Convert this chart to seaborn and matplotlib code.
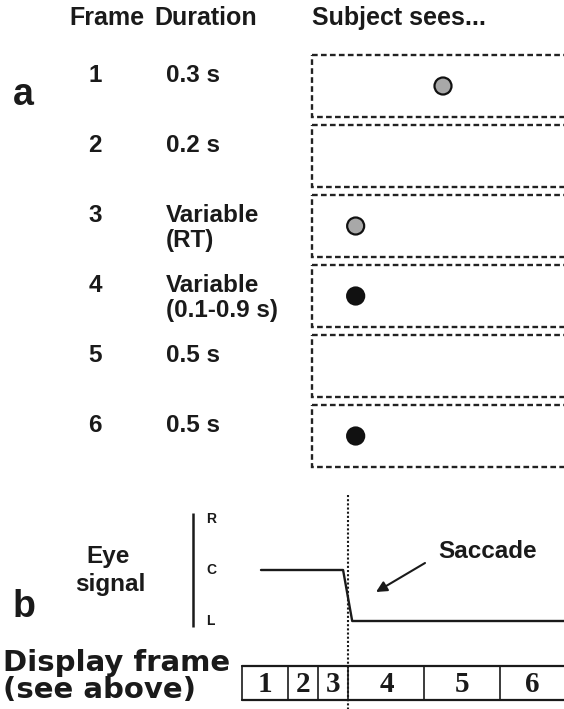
import numpy as np
import pandas as pd
import matplotlib
matplotlib.use('Agg')
import matplotlib.pyplot as plt
from matplotlib.patches import Rectangle
import seaborn as sns

# ---------------- data ----------------
frames = [1, 2, 3, 4, 5, 6]
frame_labels = ['1', '2', '3', '4', '5', '6']
durations = ['0.3 s', '0.2 s', 'Variable\n(RT)', 'Variable\n(0.1-0.9 s)', '0.5 s', '0.5 s']
header_labels = ['Frame', 'Duration', 'Subject sees...']

dot_frames = [1, 3, 4, 6]
dot_positions = [0, -1, -1, -1]          # 0 = centre, -1 = left target
dot_kinds = ['fixation', 'fixation', 'target', 'target']
dot_colors = {'fixation': '#a8a8a8', 'target': '#111111'}

timeline_durations = [0.3, 0.2, 0.2, 0.5, 0.5, 0.5]   # s, display frames 1-6
eye_time = [0.125, 0.665, 0.725, 2.3]                 # s
eye_position = [0, 0, -1, -1]                         # R = 1, C = 0, L = -1
eye_levels = [1, 0, -1]
eye_level_labels = ['R', 'C', 'L']

# ---------------- figure ----------------
sns.set_theme(style='white')
plt.rcParams['font.family'] = ['Liberation Sans', 'DejaVu Sans']
plt.rcParams['font.weight'] = 'bold'
INK = '#1a1a1a'

W, H = 564, 709
fig = plt.figure(figsize=(W / 100, H / 100), dpi=100)
fig.patch.set_facecolor('white')


def px_axes(x0, y0, x1, y1):
    ax = fig.add_axes([x0 / W, 1 - y1 / H, (x1 - x0) / W, (y1 - y0) / H])
    ax.set_axis_off()
    return ax


bg = px_axes(0, 0, W, H)
bg.set_xlim(0, W)
bg.set_ylim(H, 0)

# ---------- panel a ----------
FS = 17.5
bg.text(13, 95, 'a', fontsize=27, fontweight='bold', va='center', ha='left', color=INK)
bg.text(69, 18, header_labels[0], fontsize=18, fontweight='bold', va='center', color=INK)
bg.text(154, 18, header_labels[1], fontsize=18, fontweight='bold', va='center', color=INK)
bg.text(312, 18, header_labels[2], fontsize=18, fontweight='bold', va='center', color=INK)

for i, (lab, dur) in enumerate(zip(frame_labels, durations)):
    yc = 86 + 70 * i
    bg.text(95, yc - 11, lab, fontsize=FS, fontweight='bold', ha='center', va='center', color=INK)
    for j, line in enumerate(dur.split('\n')):
        bg.text(166, yc - 11 + 25 * j, line, fontsize=FS, fontweight='bold',
                ha='left', va='center', color=INK)

axa = px_axes(312, 51, 574, 471)
axa.set_xlim(-1.5, 1.5)
axa.set_ylim(6.5, 0.5)
for f in frames:
    axa.add_patch(Rectangle((-1.5, f - 0.443), 3.0, 0.886, fill=False,
                            edgecolor='#222222', linewidth=1.7,
                            linestyle=(0, (2.4, 1.4)), clip_on=False))

dots = pd.DataFrame({'frame': dot_frames, 'pos': dot_positions, 'kind': dot_kinds})
sns.scatterplot(data=dots, x='pos', y='frame', hue='kind', palette=dot_colors,
                s=150, edgecolor='#111111', linewidth=1.6, legend=False,
                ax=axa, clip_on=False, zorder=3)
axa.set_axis_off()

# ---------- panel b ----------
PX_PER_S = 152.0
axe = px_axes(242, 500, 564, 640)
axe.set_xlim(0, (564 - 242) / PX_PER_S)
axe.set_ylim(-70 / 51, 70 / 51)

sns.lineplot(x=eye_time, y=eye_position, sort=False, color=INK, linewidth=1.7,
             ax=axe, estimator=None)
axe.set_axis_off()

t_axis = (193 - 242) / PX_PER_S
axe.plot([t_axis, t_axis], [-1.12, 1.12], color=INK, lw=1.8, clip_on=False,
         solid_capstyle='butt')
for lvl, lab in zip(eye_levels, eye_level_labels):
    axe.text((206 - 242) / PX_PER_S, lvl, lab, fontsize=10, fontweight='bold',
             ha='left', va='center', color=INK, clip_on=False)

bounds = np.concatenate([[0], np.cumsum(timeline_durations)])
t_saccade = bounds[3]
axe.plot([t_saccade, t_saccade], [75 / 51, -142 / 51], color=INK, lw=1.5,
         linestyle=(0, (1, 1)), clip_on=False, zorder=5)

bg.text(13, 607, 'b', fontsize=27, fontweight='bold', va='center', ha='left', color=INK)
bg.text(108, 556, 'Eye', fontsize=FS, fontweight='bold', ha='center', va='center', color=INK)
bg.text(110, 584, 'signal', fontsize=FS, fontweight='bold', ha='center', va='center', color=INK)
bg.text(488, 551, 'Saccade', fontsize=FS, fontweight='bold', ha='center', va='center', color=INK)
bg.annotate('', xy=(376, 592), xytext=(425, 563),
            arrowprops=dict(arrowstyle='-|>', color=INK, lw=1.5,
                            mutation_scale=16, shrinkA=0, shrinkB=0))

bg.text(3, 663, 'Display frame', fontsize=21, fontweight='bold', ha='left', va='center',
        color=INK, family=['DejaVu Sans'])
bg.text(3, 690, '(see above)', fontsize=21, fontweight='bold', ha='left', va='center',
        color=INK, family=['DejaVu Sans'])

axt = px_axes(242, 666, 564, 700)
xmax = (564 - 242) / PX_PER_S
axt.set_xlim(0, xmax)
axt.set_ylim(0, 1)
axt.plot([0, xmax + 0.2], [1, 1], color=INK, lw=1.6, clip_on=False)
axt.plot([0, xmax + 0.2], [0, 0], color=INK, lw=1.6, clip_on=False)
for b in bounds[:-1]:
    axt.plot([b, b], [0, 1], color=INK, lw=1.2, clip_on=False)
for k, lab in enumerate(frame_labels):
    left, right = bounds[k], min(bounds[k + 1], xmax)
    axt.text((left + right) / 2, 0.47, lab, fontsize=21, fontweight='bold',
             family=['Liberation Serif'], ha='center', va='center', color=INK)

fig.savefig('out.png', dpi=100, facecolor='white')
